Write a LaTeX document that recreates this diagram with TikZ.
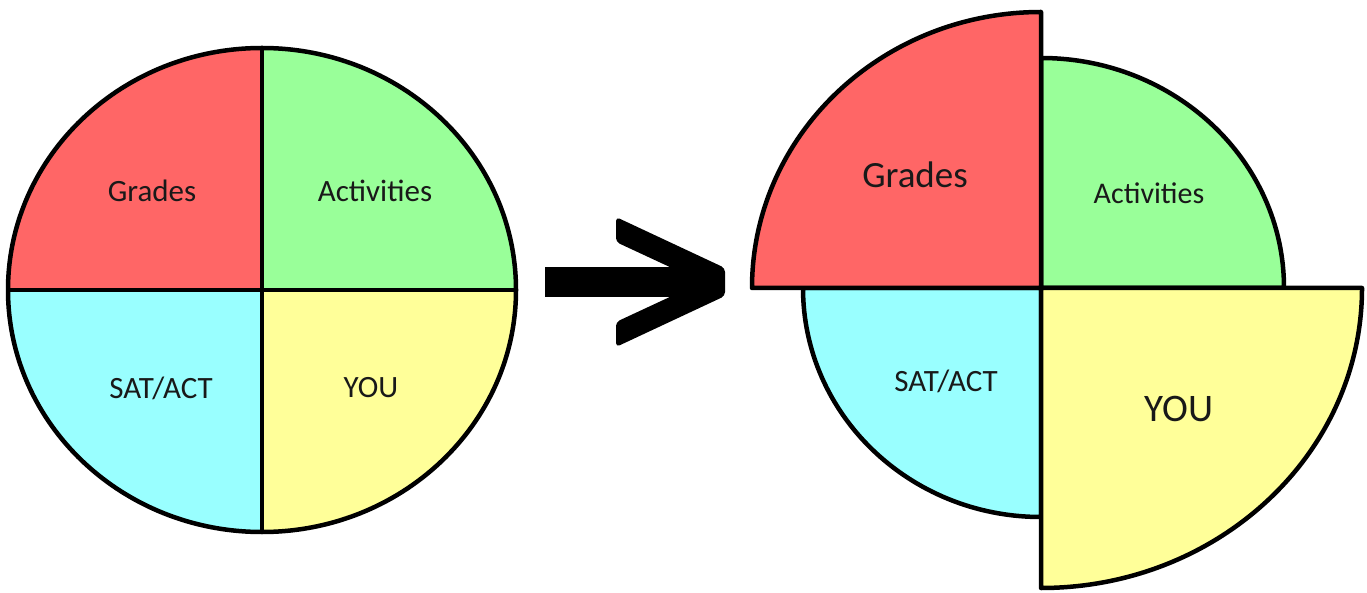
\documentclass[tikz,border=0pt]{standalone}
\usepackage{fontspec}
\setmainfont{Carlito}
\usepackage{tikz}
\usetikzlibrary{positioning}
\usetikzlibrary{calc}
\definecolor{gradesred}{RGB}{255,102,102}
\definecolor{actgreen}{RGB}{153,255,153}
\definecolor{satcyan}{RGB}{153,255,255}
\definecolor{youyellow}{RGB}{255,255,153}
\begin{document}
\begin{tikzpicture}[x=1pt,y=1pt,
                    quad/.style={draw=black,line width=4.5pt,line join=round},
                    quad text/.style={font=\fontsize{31}{31}\selectfont,text=black!90,inner sep=0},
                    big text/.style={font=\fontsize{37}{37}\selectfont,text=black!90,inner sep=0}]
    \useasboundingbox (0,0) rectangle (1367,592);

    % before
    \coordinate (left) at (262,302);
    \fill[gradesred]  (left) -- ++(0,242) arc[start angle=90,end angle=180,x radius=254,y radius=242] -- cycle;
    \fill[actgreen]   (left) -- ++(254,0) arc[start angle=0,end angle=90,x radius=254,y radius=242] -- cycle;
    \fill[satcyan]    (left) -- ++(-254,0) arc[start angle=180,end angle=270,x radius=254,y radius=242] -- cycle;
    \fill[youyellow]  (left) -- ++(0,-242) arc[start angle=270,end angle=360,x radius=254,y radius=242] -- cycle;
    \draw[quad] (left) ellipse[x radius=254,y radius=242];
    \draw[quad] ($(left)+(-254,0)$) -- ($(left)+(254,0)$);
    \draw[quad] ($(left)+(0,242)$) -- ($(left)+(0,-242)$);

    \node[quad text] (grades1) at (152,401) {Grades};
    \node[quad text] (activities1) at (375,401) {Activities};
    \node[quad text] (sat1) at (161,204) {SAT/ACT};
    \node[quad text] (you1) at (371,204) {YOU};

    % arrow
    \coordinate (bar start) at (545,310);
    \coordinate (bar end) at (704,310);
    \coordinate (tip) at (702,310);
    \fill[black] ($(bar start)+(0,-15)$) rectangle ($(bar end)+(0,15)$);
    \fill[black,rounded corners=4pt] (616,375) -- (725,324) -- (725,296) -- (616,245)
        -- (616,270) -- (tip) -- (616,350) -- cycle;

    % after
    \coordinate (right) at (1041,304);
    \draw[quad,fill=satcyan]   (right) -- ++(-238,0) arc[start angle=180,end angle=270,x radius=238,y radius=229] -- cycle;
    \draw[quad,fill=actgreen]  (right) -- ++(243,0) arc[start angle=0,end angle=90,x radius=243,y radius=230] -- cycle;
    \draw[quad,fill=gradesred] (right) -- ++(0,276) arc[start angle=90,end angle=180,x radius=289,y radius=276] -- cycle;
    \draw[quad,fill=youyellow] (right) -- ++(0,-300) arc[start angle=270,end angle=360,x radius=321,y radius=300] -- cycle;

    \node[big text] (grades2) at (915,417) {Grades};
    \node[quad text,font=\fontsize{30}{30}\selectfont] (activities2) at (1149,399) {Activities};
    \node[quad text] (sat2) at (946,211) {SAT/ACT};
    \node[big text,font=\fontsize{39}{39}\selectfont] (you2) at (1179,183) {YOU};
\end{tikzpicture}
\end{document}
